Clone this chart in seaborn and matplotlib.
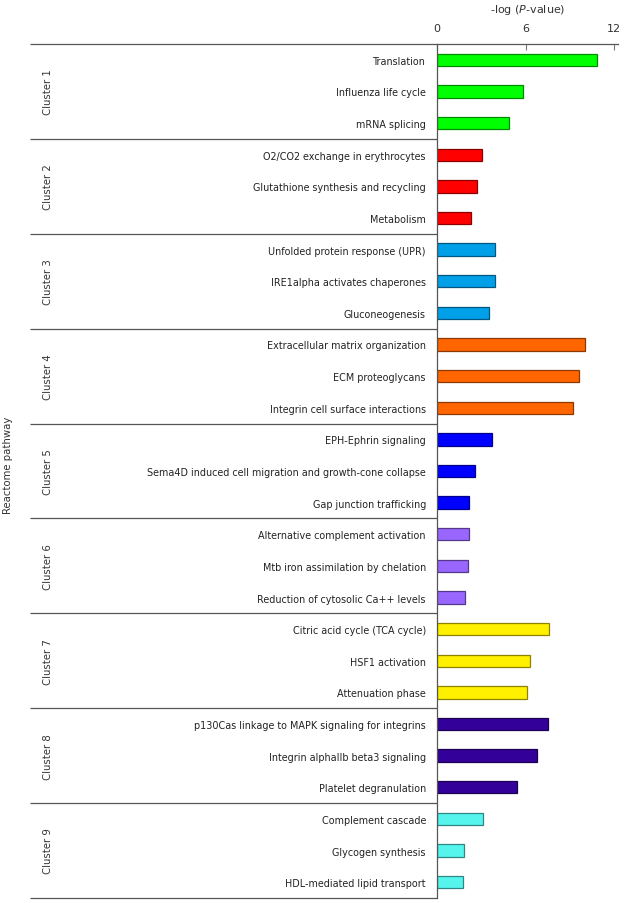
import matplotlib
matplotlib.use("Agg")
import matplotlib.pyplot as plt
import matplotlib.colors as mcolors
import matplotlib.transforms as mtransforms
import seaborn as sns
import pandas as pd
import numpy as np

pathways = [
    "Translation", "Influenza life cycle", "mRNA splicing",
    "O2/CO2 exchange in erythrocytes", "Glutathione synthesis and recycling", "Metabolism",
    "Unfolded protein response (UPR)", "IRE1alpha activates chaperones", "Gluconeogenesis",
    "Extracellular matrix organization", "ECM proteoglycans", "Integrin cell surface interactions",
    "EPH-Ephrin signaling", "Sema4D induced cell migration and growth-cone collapse", "Gap junction trafficking",
    "Alternative complement activation", "Mtb iron assimilation by chelation", "Reduction of cytosolic Ca++ levels",
    "Citric acid cycle (TCA cycle)", "HSF1 activation", "Attenuation phase",
    "p130Cas linkage to MAPK signaling for integrins", "Integrin alphaIIb beta3 signaling", "Platelet degranulation",
    "Complement cascade", "Glycogen synthesis", "HDL-mediated lipid transport",
]
values = [
    10.87, 5.85, 4.86,
    3.05, 2.69, 2.28,
    3.95, 3.96, 3.55,
    10.03, 9.65, 9.24,
    3.75, 2.60, 2.15,
    2.15, 2.08, 1.92,
    7.61, 6.28, 6.12,
    7.53, 6.80, 5.40,
    3.10, 1.81, 1.76,
]
clusters = ["Cluster %d" % (i // 3 + 1) for i in range(27)]
cluster_names = ["Cluster %d" % i for i in range(1, 10)]
cluster_colors = ["#00FF00", "#FF0000", "#00A0E9", "#FF6600", "#0000FF",
                  "#9966FF", "#FFF000", "#330099", "#55F5EE"]
xticks = [0, 6, 12]

df = pd.DataFrame({"pathway": pathways, "value": values, "cluster": clusters})

fig = plt.figure(figsize=(6.28, 9.04), dpi=100)
W, H = 628, 904
ax = fig.add_axes([437 / W, 1 - 899 / H, (618 - 437) / W, (899 - 45) / H])

sns.barplot(data=df, y="pathway", x="value", hue="cluster", palette=cluster_colors,
            hue_order=cluster_names, dodge=False, orient="h", width=0.39,
            legend=False, ax=ax, saturation=1)

# darker edges per bar
for p in ax.patches:
    fc = np.array(mcolors.to_rgb(p.get_facecolor()))
    p.set_edgecolor(tuple(fc * 0.55))
    p.set_linewidth(0.9)

ax.set_xlim(0, 12.27)
ax.set_ylim(26.5, -0.5)
ax.xaxis.tick_top()
ax.xaxis.set_label_position("top")
ax.set_xticks(xticks)
ax.set_xticklabels([str(t) for t in xticks])
ax.tick_params(axis="x", direction="in", length=4, width=0.8, color="#777777",
               labelsize=8, labelcolor="#333333", pad=8)
ax.tick_params(axis="y", length=0, labelsize=6.9, labelcolor="#222222", pad=8)
ax.set_xlabel("-log ($\\it{P}$-value)", fontsize=8, color="#333333", labelpad=8)
ax.set_ylabel("")
for s in ["right", "bottom"]:
    ax.spines[s].set_visible(False)
for s in ["top", "left"]:
    ax.spines[s].set_color("#555555")
    ax.spines[s].set_linewidth(0.9)

# separators across label area
trans = mtransforms.blended_transform_factory(ax.transAxes, ax.transData)
x0 = (30 - 437) / (618 - 437)
for b in np.arange(-0.5, 27, 3):
    ax.plot([x0, 0], [b, b], transform=trans, color="#555555", lw=0.9,
            clip_on=False, solid_capstyle="butt")

# cluster labels
xc = (48 - 437) / (618 - 437)
for i, name in enumerate(cluster_names):
    ax.text(xc, 3 * i + 1, name, transform=trans, rotation=90, ha="center",
            va="center", fontsize=7.3, color="#333333")

fig.text(8 / W, 1 - 465 / H, "Reactome pathway", rotation=90, ha="center",
         va="center", fontsize=7.3, color="#333333")

fig.savefig("out.png", dpi=100)
